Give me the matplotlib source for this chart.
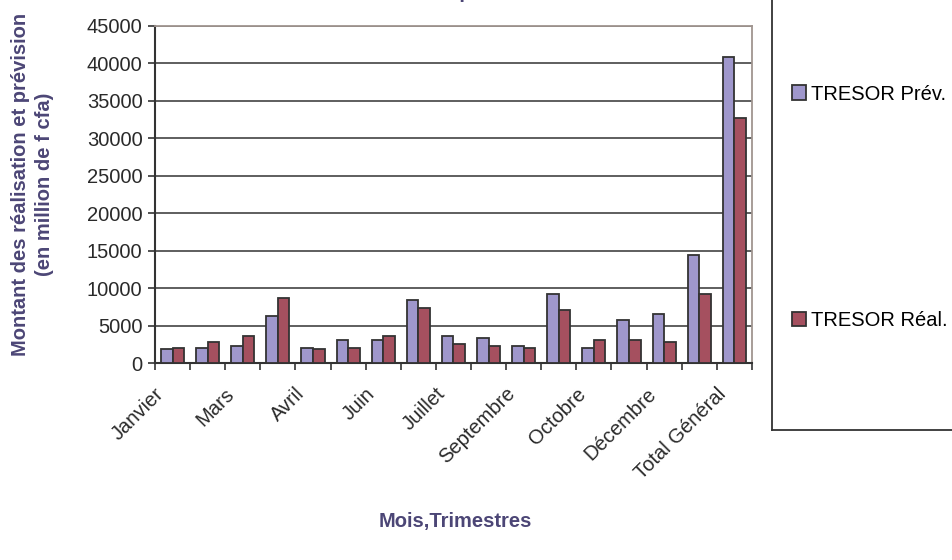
import numpy as np
import matplotlib
matplotlib.use("Agg")
import matplotlib.pyplot as plt
from matplotlib.lines import Line2D
from matplotlib.transforms import ScaledTranslation

plt.rcParams['font.family'] = ['Liberation Sans', 'DejaVu Sans']

# monthly and quarterly totals, million f cfa
categories = ["Janvier", "Février", "Mars", "1er Trimestre",
              "Avril", "Mai", "Juin", "2e Trimestre",
              "Juillet", "Août", "Septembre", "3e Trimestre",
              "Octobre", "Novembre", "Décembre", "4e Trimestre",
              "Total Général"]
prev = [1860, 2080, 2350, 6330, 2080, 3140, 3140, 8410, 3670, 3410, 2350,
        9250, 2080, 5800, 6600, 14520, 40900]
real = [2080, 2880, 3670, 8720, 1860, 2080, 3670, 7390, 2610, 2350, 2080,
        7130, 3140, 3140, 2880, 9250, 32700]
shown_labels = ["Janvier", "Mars", "Avril", "Juin", "Juillet", "Septembre",
                "Octobre", "Décembre", "Total Général"]

col_prev = "#9f97cc"
col_real = "#a5505f"
edge = "#333333"
purple_txt = "#4c4676"
fs = 14.5

fig = plt.figure(figsize=(9.53, 5.6), dpi=100)
ax = fig.add_axes([0.1626, 0.351, 0.6264, 0.6026])

x = np.arange(len(categories))
w = 0.33
b1 = ax.bar(x - w / 2, prev, w, color=col_prev, edgecolor=edge, linewidth=1.3,
            label="TRESOR Prév.", zorder=3)
b2 = ax.bar(x + w / 2, real, w, color=col_real, edgecolor=edge, linewidth=1.3,
            label="TRESOR Réal.", zorder=3)

ax.set_xlim(-0.5, len(categories) - 0.5)
ax.set_ylim(0, 45000)
ax.set_yticks(np.arange(0, 45001, 5000))
ax.yaxis.grid(True, color="#333333", linewidth=1.1, zorder=0)
ax.tick_params(axis='y', labelsize=fs, length=5, width=1.2, color="#333333",
               labelcolor="#2a2a2a", pad=4)

# boundary ticks between categories, labels on every other month
ax.set_xticks(np.arange(-0.5, len(categories), 1.0))
ax.set_xticklabels([])
ax.set_xticks([i for i, c in enumerate(categories) if c in shown_labels], minor=True)
ax.set_xticklabels(shown_labels, minor=True, rotation=45, ha='right',
                   rotation_mode='anchor', fontsize=fs, color="#2a2a2a")
ax.tick_params(axis='x', which='major', length=5, width=1.2, color="#333333")
ax.tick_params(axis='x', which='minor', length=0, pad=7)
shift = ScaledTranslation(-0.18, -0.11, fig.dpi_scale_trans)
for lbl in ax.get_xticklabels(minor=True):
    lbl.set_transform(lbl.get_transform() + shift)

for s in ['left', 'bottom']:
    ax.spines[s].set_color("#333333")
    ax.spines[s].set_linewidth(1.5)
for s in ['top', 'right']:
    ax.spines[s].set_color("#a09590")
    ax.spines[s].set_linewidth(1.3)

fig.text(0.034, 0.67, "Montant des réalisation et prévision\n(en million de f cfa)",
         rotation=90, ha='center', va='center', fontsize=fs, fontweight='bold',
         color=purple_txt, linespacing=1.3)
fig.text(0.478, 0.068, "Mois,Trimestres", ha='center', va='center', fontsize=fs,
         fontweight='bold', color=purple_txt)
fig.text(0.478, 1.014, "Trésor public", ha='center', va='center', fontsize=fs,
         fontweight='bold', color=purple_txt)

# legend frame runs off the top and right edges
fig.add_artist(Line2D([772 / 953, 772 / 953], [1.0, 1 - 430 / 560],
                      transform=fig.transFigure, color="#333333", linewidth=1.3))
fig.add_artist(Line2D([772 / 953, 1.0], [1 - 430 / 560, 1 - 430 / 560],
                      transform=fig.transFigure, color="#333333", linewidth=1.3))

fig.legend(handles=[b1, b2], loc='upper left', bbox_to_anchor=(0.831, 0.849),
           frameon=False, fontsize=fs, handlelength=0.7, handleheight=0.7,
           handletextpad=0.25, labelspacing=10.3, borderpad=0, borderaxespad=0)

fig.savefig("out.png", dpi=100)
